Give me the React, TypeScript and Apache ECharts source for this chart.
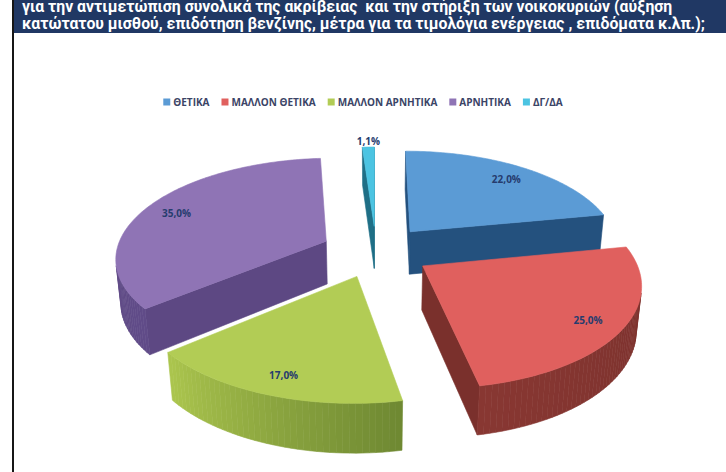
import React, { useEffect, useRef } from 'react';
import * as echarts from 'echarts';

const categories = ['ΘΕΤΙΚΑ', 'ΜΑΛΛΟΝ ΘΕΤΙΚΑ', 'ΜΑΛΛΟΝ ΑΡΝΗΤΙΚΑ', 'ΑΡΝΗΤΙΚΑ', 'ΔΓ/ΔΑ'];
const values = [22.0, 25.0, 17.0, 35.0, 1.1];
const headerLines = [
  'για την αντιμετώπιση συνολικά της ακρίβειας  και την στήριξη των νοικοκυριών (αύξηση',
  'κατώτατου μισθού, επιδότηση βενζίνης, μέτρα για τα τιμολόγια ενέργειας , επιδόματα κ.λπ.);',
];

const topColors = ['#5b9bd5', '#e0605e', '#b2cc55', '#8f74b5', '#4cc4e2'];
const faceColors = ['#24517e', '#7a302c', '#728d34', '#5d4883', '#1f6f86'];
const wallFrom = [[36, 82, 128], [120, 48, 44], [110, 136, 50], [96, 75, 136], [31, 111, 134]];
const wallTo = [[36, 82, 128], [136, 55, 50], [172, 198, 78], [92, 72, 130], [31, 111, 134]];
const drawZ = [2, 3, 4, 1, 1];

const R = 210;
const THICK = 50;
const EXPLODE = 55;
const TILT = (28 * Math.PI) / 180;
const DIST = 1200;

function fmt(v: number) {
  return v.toFixed(1).replace('.', ',') + '%';
}

function makeRenderItem(idx: number) {
  return (params: any, api: any) => {
    const W = api.getWidth();
    const Hh = api.getHeight();
    const cx = W * 0.518;
    const cy = Hh * 0.532;
    const s = Math.sin(TILT);
    const c = Math.cos(TILT);
    const total = values.reduce((a, b) => a + b, 0);
    let acc = 0;
    for (let j = 0; j < idx; j++) acc += values[j];
    const val = api.value(0);
    const a1 = (acc / total) * Math.PI * 2;
    const a2 = ((acc + val) / total) * Math.PI * 2;
    const mid = (a1 + a2) / 2;
    const ox = EXPLODE * Math.sin(mid);
    const oz = EXPLODE * Math.cos(mid);
    const proj = (x: number, h: number, z: number) => {
      const w = z * c - h * s;
      const v = z * s + h * c;
      const p = DIST / (DIST + w);
      return [cx + x * p, cy - v * p];
    };
    const camZ = -DIST * c;
    const visible = (nx: number, nz: number, px: number, pz: number) =>
      nx * (0 - px) + nz * (camZ - pz) > 0;

    const children: any[] = [];
    const poly = (pts: number[][], fill: string) => ({
      type: 'polygon',
      shape: { points: pts },
      style: { fill, stroke: fill, lineWidth: 0.6 },
    });
    const rimPt = (t: number, h: number, r = R) => proj(ox + r * Math.sin(t), h, oz + r * Math.cos(t));

    {
      const nx = -Math.cos(a1);
      const nz = Math.sin(a1);
      const px = ox + (R / 2) * Math.sin(a1);
      const pz = oz + (R / 2) * Math.cos(a1);
      if (visible(nx, nz, px, pz)) {
        children.push(
          poly([proj(ox, 0, oz), rimPt(a1, 0), rimPt(a1, -THICK), proj(ox, -THICK, oz)], faceColors[idx])
        );
      }
    }
    {
      const nx = Math.cos(a2);
      const nz = -Math.sin(a2);
      const px = ox + (R / 2) * Math.sin(a2);
      const pz = oz + (R / 2) * Math.cos(a2);
      if (visible(nx, nz, px, pz)) {
        children.push(
          poly([proj(ox, 0, oz), rimPt(a2, 0), rimPt(a2, -THICK), proj(ox, -THICK, oz)], faceColors[idx])
        );
      }
    }
    const steps = Math.max(2, Math.ceil((a2 - a1) / ((1.5 * Math.PI) / 180)));
    for (let k = 0; k < steps; k++) {
      const t0 = a1 + ((a2 - a1) * k) / steps;
      const t1 = a1 + ((a2 - a1) * (k + 1)) / steps;
      const tm = (t0 + t1) / 2;
      const px = ox + R * Math.sin(tm);
      const pz = oz + R * Math.cos(tm);
      if (!visible(Math.sin(tm), Math.cos(tm), px, pz)) continue;
      const f = (k + 0.5) / steps;
      const cf = wallFrom[idx];
      const ct = wallTo[idx];
      const col = `rgb(${Math.round(cf[0] + (ct[0] - cf[0]) * f)},${Math.round(cf[1] + (ct[1] - cf[1]) * f)},${Math.round(
        cf[2] + (ct[2] - cf[2]) * f
      )})`;
      children.push(poly([rimPt(t0, 0), rimPt(t1, 0), rimPt(t1, -THICK), rimPt(t0, -THICK)], col));
    }
    const topPts: number[][] = [proj(ox, 0, oz)];
    const n = Math.max(2, Math.ceil((a2 - a1) / ((1 * Math.PI) / 180)));
    for (let k = 0; k <= n; k++) {
      const t = a1 + ((a2 - a1) * k) / n;
      topPts.push(rimPt(t, 0));
    }
    children.push(poly(topPts, topColors[idx]));

    const frac = val / total;
    let lp: number[];
    if (frac < 0.05) {
      lp = rimPt(mid, 0, R * 1.0);
      lp = [lp[0], lp[1] - 8];
    } else {
      lp = rimPt(mid, 0, R * 0.84);
    }
    children.push({
      type: 'text',
      x: lp[0],
      y: lp[1] + 2,
      style: {
        text: fmt(val),
        fill: '#263c6e',
        font: 'bold 10px "Open Sans"',
        align: 'center',
        verticalAlign: 'middle',
      },
    });
    return { type: 'group', children };
  };
}

export default function App() {
  const ref = useRef<HTMLDivElement>(null);
  useEffect(() => {
    if (!ref.current) return;
    const chart = echarts.init(ref.current, undefined, { renderer: 'svg' });
    const series = categories.map((name, i) => ({
      type: 'custom',
      name,
      coordinateSystem: 'none',
      z: drawZ[i],
      itemStyle: { color: topColors[i] },
      renderItem: makeRenderItem(i),
      data: [[values[i]]],
    }));
    chart.setOption({
      animation: false,
      backgroundColor: '#ffffff',
      legend: {
        data: categories,
        top: 92,
        left: 'center',
        icon: 'rect',
        itemWidth: 7,
        itemHeight: 7,
        itemGap: 12,
        textStyle: {
          fontFamily: 'Open Sans',
          fontWeight: 'bold',
          fontSize: 10,
          color: '#3b4466',
          padding: [0, 0, 0, -2],
        },
      },
      graphic: [
        { type: 'rect', shape: { x: 14, y: 0, width: 712, height: 33 }, style: { fill: '#203864' } },
        { type: 'rect', shape: { x: 12, y: 0, width: 2, height: 472 }, style: { fill: '#161616' } },
        {
          type: 'text',
          x: 22,
          y: -2.5,
          style: {
            text: headerLines.join('\n'),
            fill: '#ffffff',
            font: 'bold 15.8px Roboto',
            lineHeight: 17,
            verticalAlign: 'top',
          },
        },
      ],
      series,
    });
    return () => chart.dispose();
  }, []);
  return <div ref={ref} style={{ position: 'fixed', left: 0, top: 0, width: 726, height: 472 }} />;
}
